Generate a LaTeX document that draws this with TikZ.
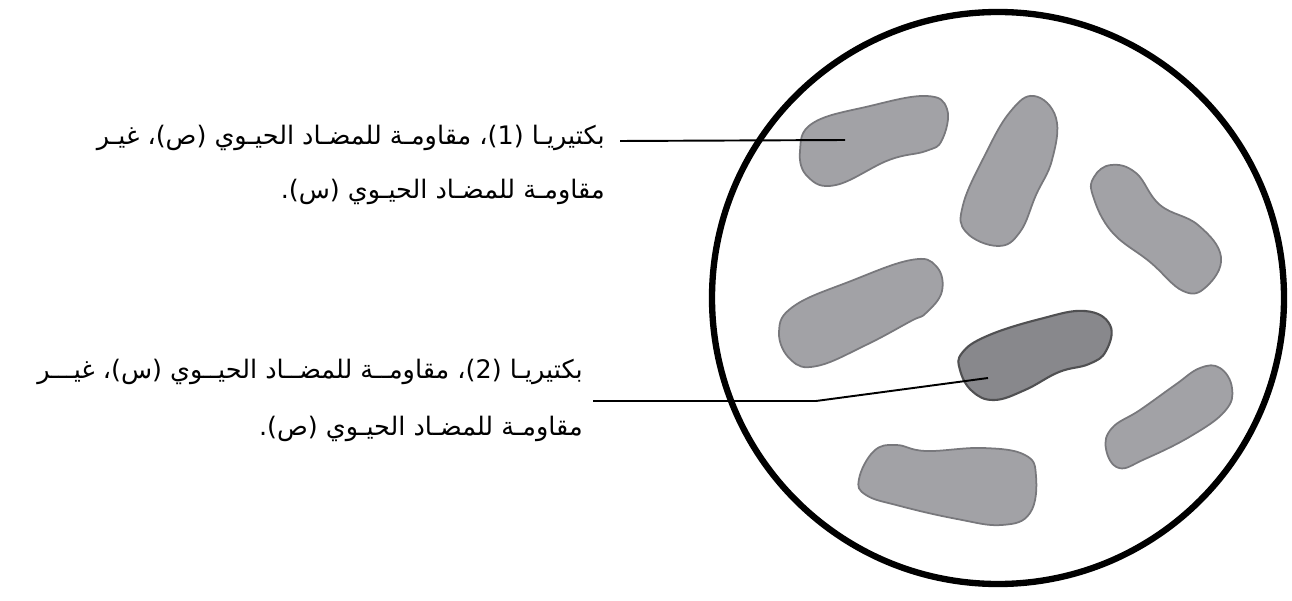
\documentclass[tikz,border=0pt]{standalone}
\usepackage{fontspec}
\newfontfamily\arabicfont[Script=Arabic]{DejaVu Sans}
\TeXXeTstate=1
\definecolor{cellfill}{RGB}{162,162,166}
\definecolor{celledge}{RGB}{120,120,124}
\definecolor{darkfill}{RGB}{136,136,140}
\definecolor{darkedge}{RGB}{80,80,82}
\tikzset{
  label/.style={anchor=base east, inner sep=0pt, font=\arabicfont\fontsize{14.5}{17}\selectfont},
  cell/.style={fill=cellfill, draw=celledge, line width=1pt},
  resistant/.style={fill=darkfill, draw=darkedge, line width=1.2pt},
  leader/.style={line width=1.1pt}
}
\begin{document}
\begin{tikzpicture}[x=0.02cm,y=-0.02cm]
    \useasboundingbox (0,0) rectangle (1292,601);

    % petri dish
    \draw[line width=3.6pt] (998,298) circle (286);

    % bacteria
    \draw[cell] plot[smooth cycle, tension=0.7] coordinates {(800,151) (813,123) (870,106) (926,96) (947,109) (942,140) (926,151) (889,160) (836,185) (808,177)};
    \draw[cell] plot[smooth cycle, tension=0.7] coordinates {(1034,96) (1056,118) (1052,160) (1036,195) (1020,232) (998,246) (966,232) (963,205) (985,155) (1010,112)};
    \draw[cell] plot[smooth cycle, tension=0.7] coordinates {(1111,165) (1136,173) (1160,205) (1198,225) (1221,257) (1206,287) (1183,291) (1150,262) (1112,232) (1093,196) (1094,177)};
    \draw[cell] plot[smooth cycle, tension=0.7] coordinates {(779,332) (794,306) (851,281) (911,260) (936,266) (942,291) (926,313) (911,321) (866,345) (817,366) (791,360)};
    \draw[resistant] plot[smooth cycle, tension=0.7] coordinates {(962,353) (987,336) (1040,319) (1085,311) (1110,325) (1106,351) (1089,364) (1059,372) (1025,390) (994,400) (972,391) (960,370)};
    \draw[cell] plot[smooth cycle, tension=0.7] coordinates {(1106,449) (1112,428) (1140,410) (1175,385) (1200,368) (1220,368) (1232,388) (1225,411) (1191,436) (1145,459) (1119,468)};
    \draw[cell] plot[smooth cycle, tension=0.7] coordinates {(859,479) (874,451) (896,445) (926,451) (983,448) (1025,455) (1036,476) (1030,513) (1002,525) (957,519) (900,506) (866,495)};

    % labels
    \node[label] (t1) at (605,145) {\beginR بكتيريـا (1)، مقاومـة للمضـاد الحيـوي (ص)، غيـر\endR};
    \node[label] (t1b) at (605,199) {\beginR مقاومـة للمضـاد الحيـوي (س).\endR};
    \node[label] (t2) at (583,378) {\beginR بكتيريـا (2)، مقاومــة للمضــاد الحيــوي (س)، غيـــر\endR};
    \node[label] (t2b) at (583,435) {\beginR مقاومـة للمضـاد الحيـوي (ص).\endR};

    % leader lines
    \coordinate (l1) at (620,141);
    \coordinate (b1) at (845,140);
    \coordinate (l2) at (593,401);
    \coordinate (k2) at (816,401);
    \coordinate (b2) at (988,378);
    \draw[leader] (l1) -- (b1);
    \draw[leader] (l2) -- (k2) -- (b2);

\end{tikzpicture}
\end{document}
